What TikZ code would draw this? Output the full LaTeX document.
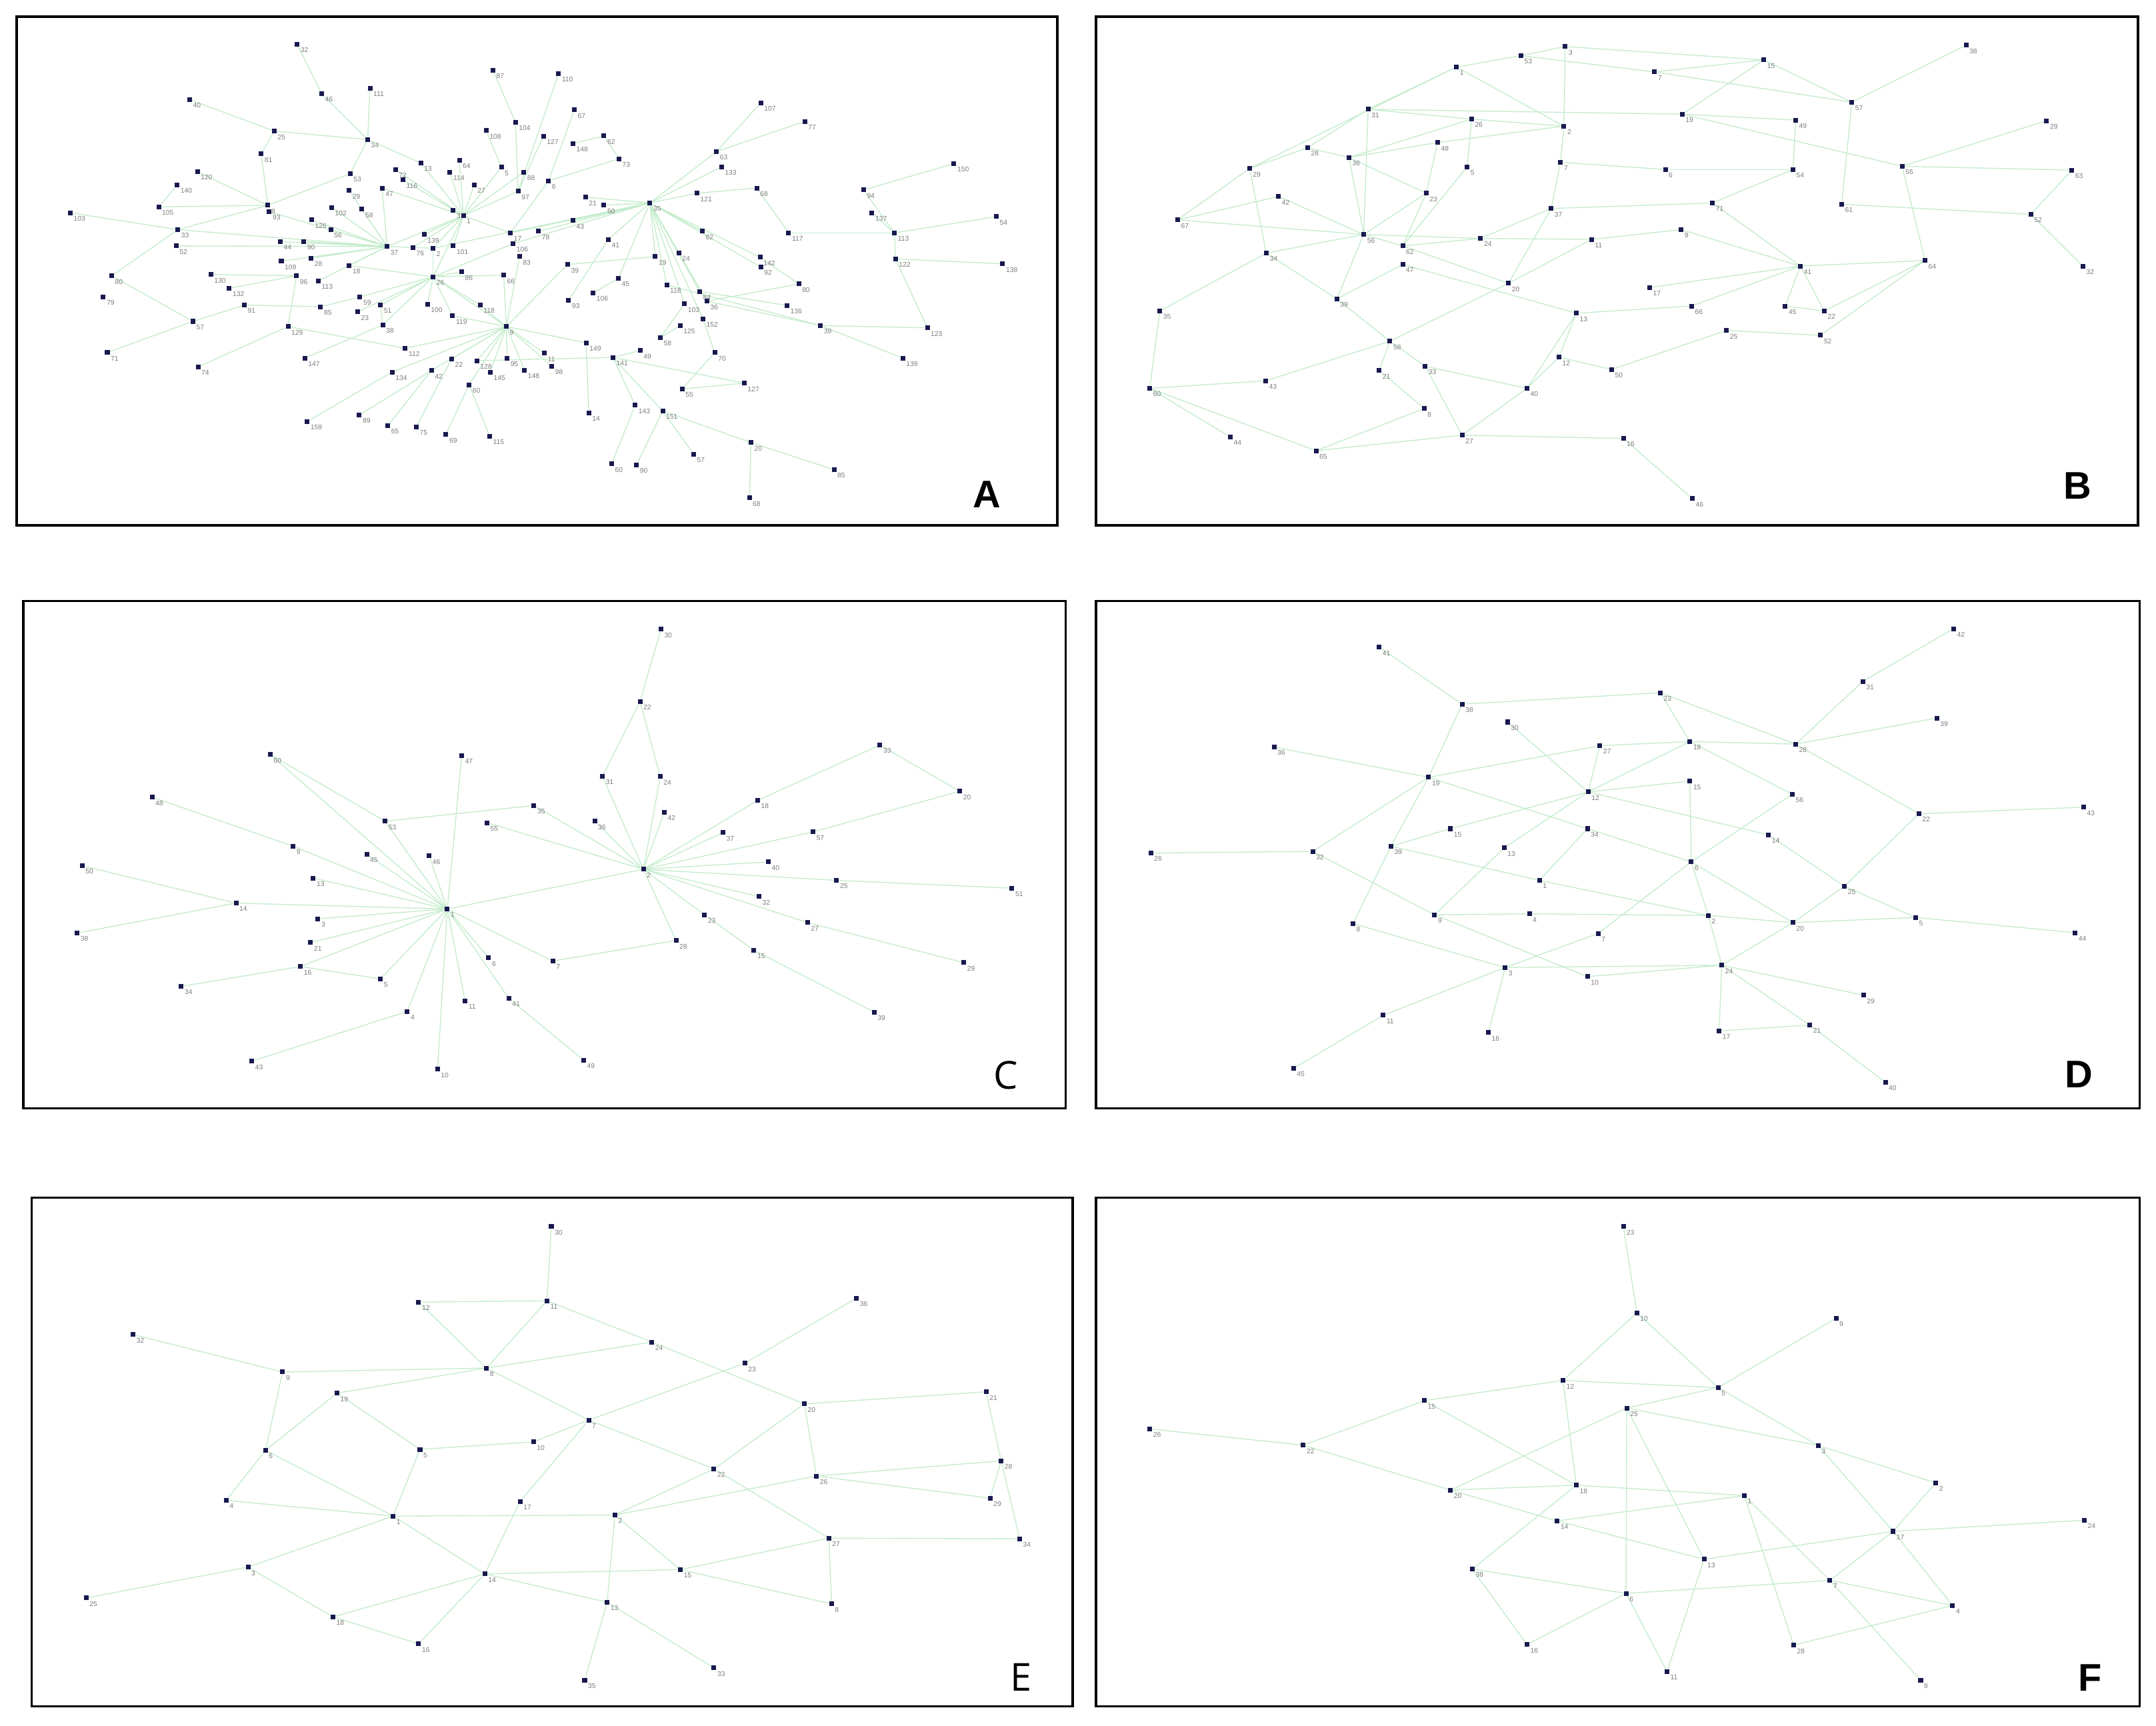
\documentclass[tikz,border=0pt]{standalone}
\usepackage{fontspec}
\newfontfamily\lblfont{Liberation Sans}
\newfontfamily\boldletfont{Liberation Sans}
\newfontfamily\regletfont{Open Sans}
\pgfdeclarelayer{bg}
\pgfsetlayers{bg,main}
\definecolor{navy}{RGB}{25,25,80}
\definecolor{edgegreen}{RGB}{196,236,203}
\definecolor{lblgray}{RGB}{125,125,125}
\tikzset{
  nd/.style={rectangle,fill=navy,draw=none,minimum size=3.4pt,inner sep=0pt},
  lbl/.style={font=\lblfont\fontsize{5}{5}\selectfont,text=lblgray,inner sep=0.4pt},
  ed/.style={draw=edgegreen,line width=0.65pt},
  frame/.style={draw=black,line width=1.7pt},
  zs/.style={x=0.2443pt,y=-0.2365pt},
  boldlet/.style={font=\boldletfont\bfseries\fontsize{28}{28}\selectfont,anchor=base,inner sep=0pt},
  reglet/.style={font=\regletfont\fontsize{28}{28}\selectfont,anchor=base,inner sep=0pt}
}
\newcommand{\nd}[4]{\node[nd,label={[lbl]south east:#4}] (#1) at (#2,#3) {};}
\newcommand{\edgeset}[1]{\foreach \p/\q in {#1} {\draw[ed] (\p) -- (\q);}}
\begin{document}
\begin{tikzpicture}[x=1pt,y=-1pt]
\useasboundingbox (0,0) rectangle (1568,1255);
\begin{pgfonlayer}{bg}
\fill[white] (0,0) rectangle (1568,1255);
\end{pgfonlayer}
% frames
\draw[frame] (12,12) rectangle (769,382);
\draw[frame] (797,12) rectangle (1555,382);
\draw[frame] (17,437) rectangle (775,806);
\draw[frame] (797,437) rectangle (1556,806);
\draw[frame] (23,871) rectangle (780,1241);
\draw[frame] (797,871) rectangle (1556,1241);
\node[boldlet] (LA) at (717.5,369) {A};
\node[boldlet] (LB) at (1511,363) {B};
\node[reglet] (LC) at (731.6,792) {C};
\node[boldlet] (LD) at (1512,791) {D};
\node[reglet] (LE) at (742.7,1230) {E};
\node[boldlet] (LF) at (1520,1230) {F};

% ================= PANEL A =================
\begin{scope}[shift={(12.1,12.1)},zs]
\nd{a32}{835}{85}{32}\nd{a87}{1418}{165}{87}\nd{a46}{908}{237}{46}\nd{a111}{1052}{220}{111}
\nd{a40}{515}{255}{40}\nd{a25}{767}{352}{25}\nd{a104}{1485}{325}{104}\nd{a108}{1398}{350}{108}
\nd{a34}{1045}{378}{34}\nd{a81}{728}{422}{81}\nd{a13}{1203}{450}{13}\nd{a64}{1318}{442}{64}
\nd{a120}{538}{477}{120}\nd{a140}{478}{518}{140}\nd{a72}{1128}{470}{72}\nd{a116}{1150}{502}{116}
\nd{a114}{1290}{478}{114}\nd{a5}{1443}{463}{5}\nd{a88}{1510}{478}{88}\nd{a53}{993}{483}{53}
\nd{a47}{1088}{527}{47}\nd{a27}{1362}{518}{27}\nd{a97}{1493}{537}{97}\nd{a29}{990}{535}{29}
\nd{a105}{423}{585}{105}\nd{a103}{160}{603}{103}\nd{a102x}{938}{587}{102}\nd{a58}{1028}{592}{58}
\nd{a8}{748}{580}{8}\nd{a93}{752}{600}{93}\nd{a126}{878}{625}{126}\nd{a3}{1300}{595}{3}
\nd{a15}{1330}{612}{1}\nd{a33}{480}{655}{33}\nd{a56}{935}{655}{56}\nd{a139}{1213}{670}{139}
\nd{a17}{1470}{665}{17}\nd{a106}{1478}{698}{106}\nd{a52}{475}{705}{52}\nd{a44}{785}{692}{44}
\nd{a90}{855}{692}{90}\nd{a37}{1103}{707}{37}\nd{a76}{1180}{710}{76}\nd{a2}{1240}{712}{2}
\nd{a101}{1300}{705}{101}\nd{a83}{1497}{738}{83}\nd{a109}{788}{752}{109}\nd{a28}{877}{743}{28}
\nd{a18}{990}{765}{18}\nd{a80}{283}{797}{80}\nd{a130}{578}{793}{130}\nd{a96}{833}{797}{96}
\nd{a113}{898}{813}{113}\nd{a26}{1240}{800}{26}\nd{a86}{1325}{785}{86}\nd{a66}{1450}{795}{66}
\nd{a79}{258}{862}{79}\nd{a102}{633}{835}{132}\nd{a59}{1022}{862}{59}\nd{a51}{1083}{887}{51}
\nd{a91}{678}{887}{91}\nd{a85}{905}{892}{85}\nd{a23}{1015}{908}{23}\nd{a100}{1223}{885}{100}
\nd{a118}{1380}{887}{118}\nd{a119}{1298}{920}{119}\nd{a97b}{525}{937}{57}\nd{a129}{808}{953}{129}
\nd{a38}{1090}{948}{38}\nd{a9}{1458}{953}{9}\nd{a112}{1157}{1020}{112}\nd{a71}{270}{1033}{71}
\nd{a74}{540}{1077}{74}\nd{a147}{858}{1050}{147}\nd{a134}{1118}{1093}{134}\nd{a42}{1235}{1088}{42}
\nd{a22}{1295}{1052}{22}\nd{a128}{1370}{1058}{128}\nd{a145}{1410}{1093}{145}\nd{a95}{1460}{1050}{95}
\nd{a148}{1512}{1087}{148}\nd{a60}{1347}{1132}{60}\nd{a159}{865}{1245}{159}\nd{a89}{1020}{1225}{89}
\nd{a65}{1105}{1258}{65}\nd{a75}{1190}{1262}{75}\nd{a69}{1278}{1285}{69}\nd{a115}{1408}{1290}{115}
\end{scope}
\begin{scope}[shift={(387.9,12.1)},zs]
\nd{a110}{75}{175}{110}\nd{a67}{122}{287}{67}\nd{a127}{30}{368}{127}\nd{a48}{118}{390}{148}
\nd{a62}{210}{367}{62}\nd{a73}{255}{437}{73}\nd{a6}{45}{505}{6}\nd{a107}{677}{265}{107}
\nd{a77}{808}{322}{77}\nd{a63}{545}{415}{63}\nd{a132}{560}{462}{133}\nd{a150}{1252}{452}{150}
\nd{a94}{983}{533}{94}\nd{a137}{1008}{603}{137}\nd{a54}{1378}{615}{54}\nd{a68}{665}{527}{68}
\nd{a121}{487}{543}{121}\nd{a21}{155}{555}{21}\nd{a50}{210}{580}{50}\nd{a35}{347}{573}{35}
\nd{a43}{118}{627}{43}\nd{a78}{15}{660}{78}\nd{a41}{223}{685}{41}\nd{a82}{503}{660}{82}
\nd{a117}{760}{665}{117}\nd{a76r}{1075}{665}{113}\nd{a122}{1078}{745}{122}\nd{a138}{1397}{760}{138}
\nd{a19}{363}{738}{19}\nd{a24}{433}{727}{24}\nd{a142}{675}{740}{142}\nd{a92}{677}{770}{92}
\nd{a23b}{102}{762}{39}\nd{a45}{253}{805}{45}\nd{a116b}{397}{825}{118}\nd{a84}{495}{845}{84}
\nd{a36}{517}{875}{36}\nd{a106b}{178}{850}{106}\nd{a93b}{105}{872}{93}\nd{a80b}{790}{822}{80}
\nd{a136}{755}{888}{136}\nd{a103c}{450}{883}{103}\nd{a152}{505}{930}{152}\nd{a39}{855}{950}{39}
\nd{a123}{1173}{957}{123}\nd{a125b}{437}{950}{125}\nd{a139b}{1100}{1050}{139}\nd{a58b}{378}{987}{58}
\nd{a149}{157}{1003}{149}\nd{a70}{540}{1033}{70}\nd{a49}{318}{1027}{49}\nd{a141}{237}{1048}{141}
\nd{a11}{33}{1035}{11}\nd{a98}{55}{1075}{98}\nd{a127b}{628}{1127}{127}\nd{a55}{443}{1145}{55}
\nd{a14}{165}{1218}{14}\nd{a143}{303}{1195}{143}\nd{a151}{385}{1213}{151}\nd{a20}{648}{1310}{20}
\nd{a57}{477}{1345}{57}\nd{a60b}{233}{1375}{60}\nd{a90b}{307}{1378}{90}\nd{a85b}{895}{1393}{85}
\nd{a68b}{643}{1480}{68}
\end{scope}

% ================= PANEL B =================
\begin{scope}[shift={(797.1,12.1)},zs]
\nd{b1}{1073}{155}{1}\nd{b53}{1265}{120}{53}\nd{b3}{1397}{92}{3}\nd{b31}{810}{285}{31}
\nd{b26}{1118}{315}{26}\nd{b2}{1393}{337}{2}\nd{b28}{630}{403}{28}\nd{b36}{753}{433}{36}
\nd{b48}{1017}{387}{48}\nd{b29}{457}{467}{29}\nd{b5}{1105}{462}{5}\nd{b7a}{1383}{448}{7}
\nd{b42}{543}{553}{42}\nd{b23}{983}{543}{23}\nd{b67}{243}{625}{67}\nd{b37}{1355}{590}{37}
\nd{b56}{797}{670}{56}\nd{b62}{913}{705}{62}\nd{b24}{1145}{682}{24}\nd{b11}{1475}{685}{11}
\nd{b34}{507}{727}{34}\nd{b47}{913}{762}{47}\nd{b20}{1228}{820}{20}\nd{b39}{717}{868}{39}
\nd{b13}{1430}{912}{13}\nd{b35}{190}{905}{35}\nd{b58}{875}{998}{58}\nd{b12}{1378}{1047}{12}
\nd{b21}{843}{1088}{21}\nd{b33}{980}{1075}{33}\nd{b40}{1283}{1143}{40}\nd{b43}{505}{1120}{43}
\nd{b60}{160}{1143}{60}\nd{b50}{1535}{1085}{50}\nd{b8}{977}{1205}{8}\nd{b27}{1090}{1287}{27}
\nd{b44}{400}{1293}{44}\nd{b65}{655}{1335}{65}
\end{scope}
\begin{scope}[shift={(1173.3,12.1)},zs]
\nd{b13r}{448}{133}{15}\nd{b70}{123}{170}{7}\nd{b57}{710}{263}{57}\nd{b19}{205}{300}{19}
\nd{b49}{543}{318}{49}\nd{b58r}{1050}{88}{38}\nd{b51}{1290}{320}{29}\nd{b6}{155}{470}{6}
\nd{b54}{535}{470}{54}\nd{b55}{860}{460}{55}\nd{b63}{1365}{472}{63}\nd{b71}{295}{573}{71}
\nd{b61}{680}{577}{61}\nd{b62r}{1243}{608}{52}\nd{b9}{202}{655}{9}\nd{b41}{557}{767}{41}
\nd{b64}{928}{750}{64}\nd{b32}{1398}{767}{32}\nd{b17}{108}{833}{17}\nd{b66}{233}{890}{66}
\nd{b45}{512}{890}{45}\nd{b22}{628}{905}{22}\nd{b25}{337}{965}{25}\nd{b52}{617}{980}{52}
\nd{b16}{30}{1297}{16}\nd{b46}{235}{1482}{46}
\end{scope}

% ================= PANEL C =================
\begin{scope}[shift={(17.0,436.4)},zs]
\nd{c60}{735}{475}{60}\nd{c48}{383}{606}{48}\nd{c50}{175}{817}{50}\nd{c38}{160}{1024}{38}
\nd{c14}{633}{932}{14}\nd{c9}{803}{757}{9}\nd{c45}{1022}{782}{45}\nd{c13}{863}{855}{13}
\nd{c46}{1208}{787}{46}\nd{c53}{1077}{680}{53}\nd{c47}{1305}{478}{47}\nd{c55}{1380}{685}{55}
\nd{c35}{1520}{632}{35}\nd{c1}{1262}{950}{1}\nd{c3}{877}{980}{3}\nd{c21}{855}{1053}{21}
\nd{c16}{825}{1127}{16}\nd{c34}{470}{1188}{34}\nd{c5}{1063}{1165}{5}\nd{c4}{1143}{1265}{4}
\nd{c43}{680}{1418}{43}\nd{c10}{1233}{1443}{10}\nd{c11}{1315}{1233}{11}\nd{c6}{1385}{1100}{6}
\nd{c41}{1445}{1225}{41}
\end{scope}
\begin{scope}[shift={(392.7,436.4)},zs]
\nd{c7}{38}{1110}{7}\nd{c30}{360}{90}{30}\nd{c22}{298}{312}{22}\nd{c31}{186}{542}{31}
\nd{c24}{358}{543}{24}\nd{c42}{370}{653}{42}\nd{c36}{163}{680}{36}\nd{c2}{308}{828}{2}
\nd{c18}{648}{616}{18}\nd{c37}{545}{715}{37}\nd{c57}{813}{713}{57}\nd{c33}{1012}{446}{33}
\nd{c20}{1250}{588}{20}\nd{c40a}{680}{805}{40}\nd{c25}{883}{862}{25}\nd{c51}{1405}{886}{51}
\nd{c32}{652}{912}{32}\nd{c23}{490}{968}{23}\nd{c27}{797}{992}{27}\nd{c28}{405}{1047}{28}
\nd{c29}{1262}{1115}{29}\nd{c15}{637}{1077}{15}\nd{c39}{995}{1267}{39}\nd{c49}{130}{1415}{49}
\end{scope}

% ================= PANEL D =================
\begin{scope}[shift={(797.1,436.4)},zs]
\nd{d41}{843}{145}{41}\nd{d38}{1090}{320}{38}\nd{d30}{1225}{375}{30}\nd{d36}{530}{452}{36}
\nd{d27}{1500}{448}{27}\nd{d19}{990}{545}{19}\nd{d12}{1465}{590}{12}\nd{d35}{1055}{703}{15}
\nd{d34}{1463}{703}{34}\nd{d26}{163}{778}{26}\nd{d32}{645}{773}{32}\nd{d20}{878}{757}{39}
\nd{d13}{1215}{762}{13}\nd{d1}{1320}{862}{1}\nd{d9}{1008}{968}{9}\nd{d4}{1290}{965}{4}
\nd{d7}{1495}{1025}{7}\nd{d8}{765}{995}{8}\nd{d3}{1218}{1130}{3}\nd{d10}{1463}{1158}{10}
\nd{d11}{855}{1277}{11}\nd{d16}{1168}{1330}{16}\nd{d45}{588}{1440}{45}
\end{scope}
\begin{scope}[shift={(1173.3,436.4)},zs]
\nd{d25a}{140}{285}{23}\nd{d42}{1013}{88}{42}\nd{d31}{743}{250}{31}\nd{d39}{963}{363}{39}
\nd{d18}{228}{435}{18}\nd{d28}{543}{443}{28}\nd{d15}{228}{557}{15}\nd{d56}{533}{597}{56}
\nd{d22}{910}{657}{22}\nd{d43}{1400}{637}{43}\nd{d14}{462}{722}{14}\nd{d6}{232}{805}{6}
\nd{d25}{688}{880}{25}\nd{d5}{900}{976}{5}\nd{d44}{1375}{1023}{44}\nd{d2}{283}{970}{2}
\nd{d28b}{535}{992}{20}\nd{d24}{323}{1123}{24}\nd{d29}{745}{1215}{29}\nd{d17}{315}{1325}{17}
\nd{d21}{585}{1307}{21}\nd{d40}{810}{1483}{40}
\end{scope}

% ================= PANEL E =================
\begin{scope}[shift={(22.8,870.8)},zs]
\nd{e30}{1548}{90}{30}\nd{e12}{1153}{322}{12}\nd{e11}{1535}{318}{11}\nd{e32}{303}{422}{32}
\nd{e9}{748}{537}{9}\nd{e8}{1355}{525}{8}\nd{e19}{910}{602}{19}\nd{e6}{697}{778}{6}
\nd{e5}{1157}{775}{5}\nd{e10}{1495}{752}{10}\nd{e4}{580}{932}{4}\nd{e1}{1077}{980}{1}
\nd{e17}{1455}{935}{17}\nd{e3}{645}{1137}{3}\nd{e25}{163}{1232}{25}\nd{e14}{1350}{1158}{14}
\nd{e18}{898}{1290}{18}\nd{e16}{1153}{1373}{16}
\end{scope}
\begin{scope}[shift={(397.6,870.8)},zs]
\nd{e24}{313}{445}{24}\nd{e23}{590}{510}{23}\nd{e36}{922}{310}{36}\nd{e7}{125}{685}{7}
\nd{e20}{767}{635}{20}\nd{e21}{1308}{598}{21}\nd{e22}{498}{835}{22}\nd{e26}{803}{857}{26}
\nd{e28}{1353}{810}{28}\nd{e29}{1320}{925}{29}\nd{e2}{203}{977}{2}\nd{e27}{840}{1048}{27}
\nd{e34}{1408}{1050}{34}\nd{e15}{398}{1145}{15}\nd{e31}{848}{1250}{8}\nd{e13}{180}{1245}{13}
\nd{e35}{113}{1485}{35}\nd{e33}{498}{1447}{33}
\end{scope}

% ================= PANEL F =================
\begin{scope}[shift={(797.1,870.8)},zs]
\nd{f26}{160}{712}{26}\nd{f22}{617}{762}{22}\nd{f35}{978}{625}{15}\nd{f32}{1390}{563}{12}
\nd{f20}{1055}{900}{20}\nd{f18}{1430}{885}{18}\nd{f14}{1373}{995}{14}\nd{f38}{1120}{1143}{38}
\nd{f16}{1283}{1375}{16}
\end{scope}
\begin{scope}[shift={(1173.3,870.8)},zs]
\nd{f23}{30}{90}{23}\nd{f10}{70}{355}{10}\nd{f9}{663}{372}{9}\nd{f5}{312}{585}{5}
\nd{f25}{40}{648}{25}\nd{f3}{610}{763}{3}\nd{f2}{960}{878}{2}\nd{f1}{390}{917}{1}
\nd{f17}{833}{1027}{17}\nd{f24}{1402}{993}{24}\nd{f13}{270}{1113}{13}\nd{f7}{645}{1178}{7}
\nd{f6}{38}{1218}{6}\nd{f4}{1010}{1255}{4}\nd{f28}{537}{1377}{28}\nd{f11}{160}{1458}{11}
\nd{f8}{915}{1485}{8}
\end{scope}

\begin{pgfonlayer}{bg}
% A edges
\edgeset{a32/a46,a46/a34,a111/a34,a40/a25,a25/a34,a25/a81,a81/a8,a34/a53,a34/a13,a13/a15,
a53/a8,a120/a8,a140/a105,a105/a8,a103/a33,a33/a8,a33/a37,a52/a37,a33/a80,a80/a97b,a97b/a71,
a97b/a91,a91/a85,a130/a96,a102/a96,a129/a74,a129/a96,a129/a112,a112/a9,a147/a38,a38/a26,
a85/a59,a59/a26,a37/a44,a37/a90,a37/a126,a37/a56,a37/a28,a37/a109,a37/a18,a37/a113,a37/a58,
a37/a29,a37/a2,a37/a15,a37/a102x,a37/a93,a37/a47,a15/a64,a15/a114,a15/a27,a15/a3,a15/a72,
a15/a116,a15/a139,a15/a76,a15/a2,a15/a101,a15/a26,a15/a5,a15/a97,a15/a17,a15/a88,a15/a47,
a87/a104,a104/a97,a108/a5,a26/a2,a26/a100,a26/a51,a26/a23,a26/a86,a26/a118,a26/a66,a26/a119,
a26/a18,a26/a9,a26/a106,a9/a119,a9/a118,a9/a22,a9/a42,a9/a128,a9/a145,a9/a95,a9/a148,a9/a60,
a9/a134,a9/a66,a9/a83,a60/a69,a60/a115,a42/a89,a42/a65,a22/a75,a134/a159,a51/a38}
\edgeset{a110/a97,a67/a6,a62/a73,a62/a48,a127/a97,a73/a6,a6/a17,a107/a63,a77/a63,a63/a35,
a132/a35,a35/a21,a35/a50,a35/a43,a35/a41,a35/a82,a35/a121,a35/a24,a35/a19,a35/a152,a35/a103c,
a35/a36,a35/a84,a35/a116b,a35/a45,a35/a142,a35/a92,a35/a17,a35/a106,a35/a78,a35/a2,a68/a117,
a117/a76r,a76r/a94,a94/a150,a76r/a137,a76r/a54,a76r/a122,a122/a138,a68/a121,a152/a70,
a103c/a58b,a58b/a125b,a36/a39,a39/a123,a39/a139b,a84/a136,a80b/a36,a116b/a39,a19/a23b,
a45/a106b,a41/a93b,a149/a14,a149/a9,a141/a143,a141/a127b,a49/a141,a127b/a55,a55/a70,
a20/a151,a20/a85b,a20/a68b,a151/a57,a151/a141,a143/a60b,a151/a90b,a11/a9,a98/a9,a9/a23b,
a128/a141,a122/a123,a142/a80b}
% B edges
\edgeset{b1/b53,b1/b31,b1/b29,b1/b2,b53/b70,b53/b3,b3/b13r,b3/b2,b31/b26,b31/b28,b31/b56,
b31/b19,b26/b2,b26/b5,b26/b36,b28/b36,b28/b29,b36/b48,b36/b23,b36/b56,b48/b23,b48/b2,b29/b67,
b29/b34,b42/b67,b42/b56,b23/b56,b5/b62,b67/b56,b56/b62,b56/b24,b56/b39,b62/b24,b62/b20,
b24/b11,b47/b39,b47/b13,b7a/b37,b7a/b2,b7a/b6,b37/b20,b37/b71,b11/b20,b11/b9,b34/b35,b34/b39,
b34/b56,b39/b58,b35/b60,b58/b21,b58/b33,b58/b20,b58/b43,b13/b12,b13/b40,b13/b66,b12/b40,
b12/b50,b21/b8,b33/b40,b33/b27,b40/b27,b43/b60,b60/b44,b60/b65,b8/b65,b27/b16,b27/b65,
b70/b13r,b70/b57,b13r/b57,b13r/b19,b57/b58r,b57/b61,b19/b55,b49/b54,b49/b19,b6/b54,b55/b63,
b55/b51,b55/b64,b54/b71,b71/b41,b61/b62r,b62r/b63,b62r/b32,b41/b64,b41/b22,b41/b45,b17/b41,
b66/b41,b45/b22,b22/b64,b25/b52,b52/b64,b16/b46,b50/b25,b9/b41,b24/b37,b23/b62}
% C edges
\edgeset{c1/c60,c48/c9,c9/c1,c1/c45,c1/c13,c1/c46,c60/c53,c53/c1,c53/c35,c47/c1,c55/c2,c35/c2,
c14/c1,c14/c50,c14/c38,c3/c1,c21/c1,c16/c1,c16/c34,c16/c5,c5/c1,c4/c1,c4/c43,c10/c1,c11/c1,
c6/c1,c1/c41,c41/c49,c1/c7,c7/c28,c28/c2,c1/c2,c30/c22,c22/c31,c22/c24,c31/c2,c24/c2,c42/c2,
c36/c2,c2/c18,c18/c33,c2/c37,c2/c57,c57/c20,c33/c20,c2/c40a,c2/c25,c25/c51,c2/c32,c2/c23,
c23/c15,c15/c39,c2/c27,c27/c29}
% D edges
\edgeset{d41/d38,d38/d19,d38/d25a,d36/d19,d19/d27,d19/d32,d19/d20,d19/d34,d30/d12,d27/d12,
d12/d35,d35/d20,d12/d13,d13/d9,d12/d18,d12/d15,d27/d18,d34/d1,d34/d6,d20/d8,d20/d1,d32/d26,
d32/d9,d9/d4,d9/d10,d4/d2,d1/d2,d8/d3,d3/d7,d3/d11,d11/d45,d3/d16,d3/d24,d10/d24,d7/d6,
d25a/d18,d25a/d28,d18/d28,d28/d31,d31/d42,d28/d39,d28/d22,d22/d43,d22/d25,d18/d56,d56/d6,
d15/d6,d14/d25,d25/d5,d5/d44,d6/d2,d6/d28b,d2/d28b,d2/d24,d28b/d24,d28b/d25,d28b/d5,
d24/d29,d24/d21,d24/d17,d17/d21,d21/d40,d12/d14}
% E edges
\edgeset{e30/e11,e12/e11,e12/e8,e11/e8,e9/e32,e9/e8,e19/e8,e9/e6,e19/e6,e19/e5,e5/e10,e5/e1,
e6/e4,e6/e1,e4/e1,e1/e3,e3/e25,e3/e18,e18/e14,e18/e16,e16/e14,e1/e14,e17/e14,e17/e7,e8/e7,
e8/e24,e10/e7,e1/e2,e14/e15,e14/e13,e11/e24,e24/e20,e23/e36,e23/e7,e20/e26,e20/e21,e21/e28,
e28/e34,e28/e29,e26/e28,e26/e29,e20/e22,e7/e22,e22/e2,e22/e27,e27/e34,e27/e15,e27/e31,
e15/e31,e2/e26,e2/e15,e2/e13,e13/e35,e13/e33}
% F edges
\edgeset{f26/f22,f22/f35,f22/f20,f35/f32,f35/f18,f32/f18,f32/f5,f20/f18,f20/f14,f20/f25,
f14/f1,f14/f13,f18/f38,f38/f16,f38/f6,f16/f6,f23/f10,f10/f5,f10/f32,f5/f9,f5/f25,f5/f3,f25/f3,
f25/f6,f25/f13,f3/f2,f3/f17,f2/f17,f17/f24,f17/f13,f17/f7,f17/f4,f1/f28,f1/f7,f18/f1,f6/f7,
f6/f11,f13/f11,f7/f4,f7/f8,f4/f28}
\end{pgfonlayer}
\end{tikzpicture}
\end{document}
